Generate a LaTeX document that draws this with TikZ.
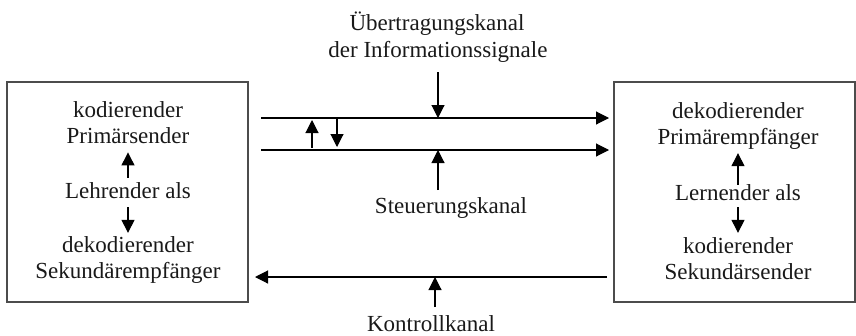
\documentclass[tikz,border=0pt]{standalone}
\usepackage{fontspec}
\setmainfont{Liberation Serif}
\usetikzlibrary{arrows.meta}
\begin{document}
\begin{tikzpicture}[x=1pt,y=-1pt,
  lbl/.style={anchor=base,inner sep=0pt,font=\fontsize{23}{27}\selectfont,text=black!90},
  box/.style={draw=black!70,line width=1.1pt,minimum width=241pt,minimum height=220pt,inner sep=0pt},
  arr/.style={line width=1.1pt,-{Triangle[length=13pt,width=13pt]}}]
\useasboundingbox (0,0) rectangle (856,335);
% boxes
\node[box] (L) at (127.5,192) {};
\node[box] (R) at (734.5,192) {};
% left box texts
\node[lbl] (l1) at (128,117) {kodierender};
\node[lbl] (l2) at (128,143) {Primärsender};
\node[lbl] (l3) at (128,198) {Lehrender als};
\node[lbl] (l4) at (128,252) {dekodierender};
\node[lbl] (l5) at (128,278) {Sekundärempfänger};
\draw[arr] ([yshift=4pt]l3.north) -- ([yshift=-9pt]l2.south);
\draw[arr] ([yshift=-9pt]l3.south) -- ([yshift=3pt]l4.north);
% right box texts
\node[lbl] (r1) at (738,118) {dekodierender};
\node[lbl] (r2) at (738,144) {Primärempfänger};
\node[lbl] (r3) at (738,200) {Lernender als};
\node[lbl] (r4) at (738,253) {kodierender};
\node[lbl] (r5) at (738,279) {Sekundärsender};
\draw[arr] ([yshift=-1pt]r3.north) -- ([yshift=-4pt]r2.south);
\draw[arr] ([yshift=-7pt]r3.south) -- ([yshift=4pt]r4.north);
% channel labels
\node[lbl] (t1) at (437,30) {Übertragungskanal};
\node[lbl] (t2) at (438,57) {der Informationssignale};
\node[lbl] (st) at (451,213) {Steuerungskanal};
\node[lbl] (ko) at (431,331) {Kontrollkanal};
% channel lines
\coordinate (a1) at (261,118);
\coordinate (a2) at (609,118);
\coordinate (b1) at (261,150);
\coordinate (b2) at (609,150);
\coordinate (c1) at (607,277);
\coordinate (c2) at (255,277);
\draw[arr] (a1) -- (a2);
\draw[arr] (b1) -- (b2);
\draw[arr] (c1) -- (c2);
% vertical arrows
\coordinate (ta) at (438,72);
\coordinate (tb) at (438,118);
\coordinate (sa) at (438,190);
\coordinate (sb) at (438,150);
\coordinate (ka) at (435,307);
\coordinate (kb) at (435,277);
\draw[arr] (ta) -- (tb);
\draw[arr] (sa) -- (sb);
\draw[arr] (ka) -- (kb);
\coordinate (u1) at (312,148);
\coordinate (u2) at (312,120);
\coordinate (d1) at (337,118);
\coordinate (d2) at (337,147);
\draw[arr] (u1) -- (u2);
\draw[arr] (d1) -- (d2);
\end{tikzpicture}
\end{document}
